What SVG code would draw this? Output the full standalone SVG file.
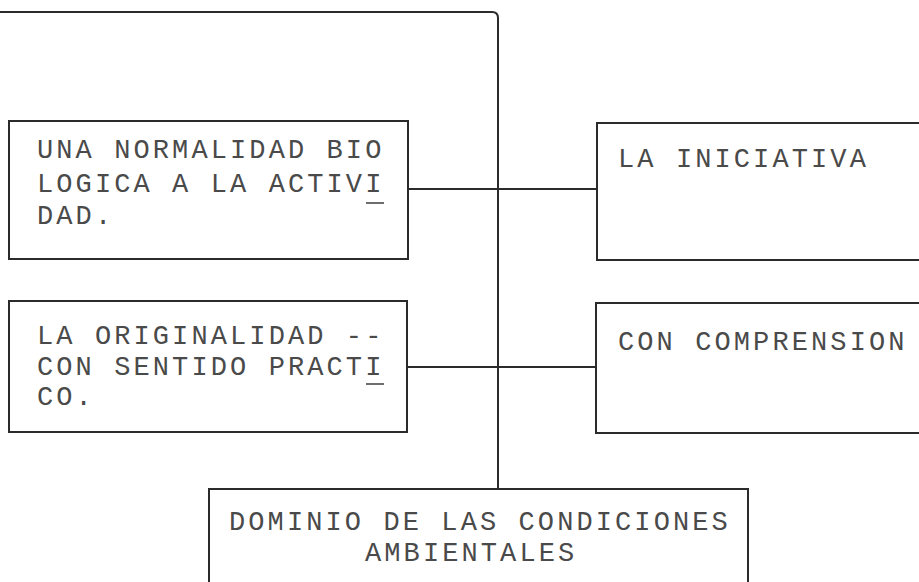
<svg xmlns="http://www.w3.org/2000/svg" width="919" height="582" viewBox="0 0 919 582">
<style>
.box{fill:none;stroke:#2b2b2b;stroke-width:2}
.con{fill:none;stroke:#2b2b2b;stroke-width:2}
.t{font-family:"Liberation Mono","Courier New",monospace;font-size:27px;letter-spacing:3.1px;fill:#4a4a4a}
.u{stroke:#4a4a4a;stroke-width:1.6}
</style>
<rect width="919" height="582" fill="#ffffff"/>
<g id="connectors">
<path class="con" d="M0,12 H492 Q498,12 498,18 V489"/>
<path class="con" d="M408,189 H597"/>
<path class="con" d="M407,367 H596"/>
</g>
<g id="n1">
<rect class="box" x="9" y="121" width="399" height="138"/>
<text class="t" x="37" y="158">UNA NORMALIDAD BIO</text>
<text class="t" x="37" y="192">LOGICA A LA ACTIVI</text>
<line class="u" x1="366" y1="203" x2="384" y2="203"/>
<text class="t" x="37" y="224">DAD.</text>
</g>
<g id="n2">
<rect class="box" x="597" y="123" width="330" height="137"/>
<text class="t" x="618" y="167">LA INICIATIVA</text>
</g>
<g id="n3">
<rect class="box" x="9" y="301" width="398" height="131"/>
<text class="t" x="37" y="344">LA ORIGINALIDAD --</text>
<text class="t" x="37" y="375">CON SENTIDO PRACTI</text>
<line class="u" x1="366" y1="384" x2="384" y2="384"/>
<text class="t" x="37" y="405">CO.</text>
</g>
<g id="n4">
<rect class="box" x="596" y="303" width="330" height="130"/>
<text class="t" x="618" y="350">CON COMPRENSION</text>
</g>
<g id="n5">
<path class="box" d="M209,600 V489 H748 V600"/>
<text class="t" x="229" y="530">DOMINIO DE LAS CONDICIONES</text>
<text class="t" x="365" y="561">AMBIENTALES</text>
</g>
</svg>
